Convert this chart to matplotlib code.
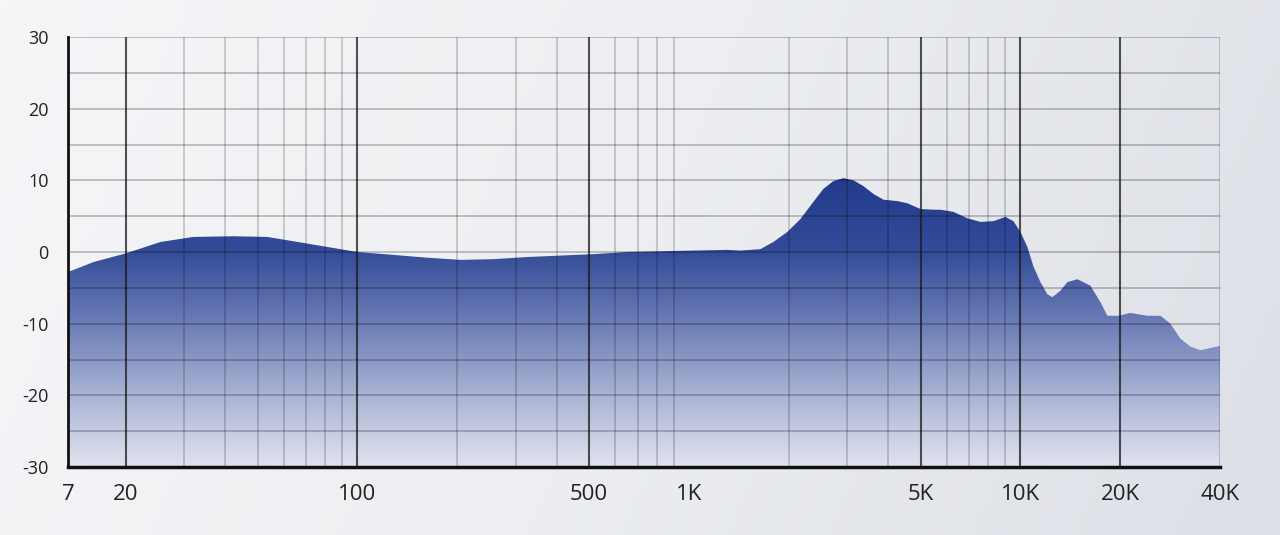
import numpy as np
import matplotlib
matplotlib.use("Agg")
import matplotlib.pyplot as plt
from matplotlib.colors import LinearSegmentedColormap
from matplotlib.patches import Polygon

# ==========================
# DATA
# ==========================

freq = [13.4, 16.0, 20, 25.5, 32, 42.3, 53.5, 64.1, 81.2, 100,
        128, 163, 205, 257, 326, 410, 515, 652, 820, 1032,
        1306, 1430, 1643, 1798, 1982, 2170, 2375, 2545, 2729, 2925,
        3135, 3360, 3602, 3861, 4256, 4562, 4993, 5465, 5738, 6281,
        6922, 7575, 8293, 9012, 9526, 10000, 10498, 10944, 11489, 12060,
        12490, 13204, 13866, 14858, 16262, 17430, 18300, 19754, 21470, 24160,
        26450, 28350, 30390, 32570, 34910, 37430, 40000]

level = [-2.8, -1.4, -0.2, 1.4, 2.1, 2.2, 2.1, 1.5, 0.7, 0.0,
         -0.4, -0.8, -1.1, -1.0, -0.7, -0.5, -0.3, 0.0, 0.1, 0.2,
         0.3, 0.2, 0.4, 1.4, 2.8, 4.6, 7.0, 8.8, 9.9, 10.3,
         10.0, 9.2, 8.1, 7.3, 7.1, 6.8, 6.0, 5.9, 5.9, 5.6,
         4.7, 4.2, 4.3, 4.9, 4.3, 2.8, 0.7, -2.0, -4.2, -5.9,
         -6.3, -5.4, -4.2, -3.8, -4.7, -7.0, -8.9, -8.9, -8.5, -8.9,
         -8.9, -10.0, -12.1, -13.2, -13.7, -13.4, -13.1]

tick_freqs = [13.4, 20, 100, 500, 1000, 5000, 10000, 20000, 40000]
tick_labels = ["7", "20", "100", "500", "1K", "5K", "10K", "20K", "40K"]

major_grid = [20, 100, 500, 5000, 10000, 20000]
minor_grid = [30, 40, 50, 60, 70, 80, 90,
              200, 300, 400, 600, 700, 800, 900,
              2000, 3000, 4000, 6000, 7000, 8000, 9000, 40000]

db_ticks = [-30, -20, -10, 0, 10, 20, 30]
db_grid = [-25, -20, -15, -10, -5, 0, 5, 10, 15, 20, 25, 30]

# ==========================
# FIGURE + BACKGROUND
# ==========================

fig = plt.figure(figsize=(12.8, 5.35), dpi=100)

bg = fig.add_axes([0, 0, 1, 1], zorder=-2)
bg_cmap = LinearSegmentedColormap.from_list("bg", ["#f5f6f8", "#eceef1", "#dcdfe6"])
gx = np.linspace(0, 1, 256)
gy = np.linspace(0, 1, 64)
GX, GY = np.meshgrid(gx, gy)
bg.imshow(0.85 * GX + 0.15 * GY, cmap=bg_cmap, aspect="auto",
          extent=[0, 1, 0, 1], origin="upper")
bg.axis("off")

ax = fig.add_axes([68 / 1280, 68 / 535, 1152 / 1280, 430 / 535])
ax.set_facecolor("none")
ax.set_xscale("log")
ax.set_xlim(13.4, 40000)
ax.set_ylim(-30, 30)

# ==========================
# GRADIENT FILL
# ==========================

fill_cmap = LinearSegmentedColormap.from_list(
    "fill",
    [(0.0, "#e0e3ef"), (1 / 6, "#a9b3d4"), (2 / 6, "#6c7db7"),
     (0.5, "#344c98"), (4 / 6, "#223b8b"), (1.0, "#1b3483")]
)
grad = np.linspace(1, 0, 256).reshape(-1, 1)
img = ax.imshow(grad, cmap=fill_cmap, aspect="auto",
                extent=[0, 1, 0, 1], transform=ax.transAxes,
                vmin=0, vmax=1, zorder=1)

verts = [(freq[0], -30)] + list(zip(freq, level)) + [(freq[-1], -30)]
poly = Polygon(verts, closed=True, transform=ax.transData,
               facecolor="none", edgecolor="none")
ax.add_patch(poly)
img.set_clip_path(poly)

# ==========================
# GRID
# ==========================

for f in minor_grid:
    ax.axvline(f, color="black", alpha=0.22, lw=1.1, zorder=2)
for f in major_grid:
    ax.axvline(f, color="#1a1a1a", alpha=0.75, lw=1.5, zorder=2)
for d in db_grid:
    ax.axhline(d, color="black", alpha=0.22, lw=1.4, zorder=2)

# ==========================
# AXES STYLE
# ==========================

for side in ["top", "right"]:
    ax.spines[side].set_visible(False)
ax.spines["left"].set_color("#111111")
ax.spines["left"].set_linewidth(2.0)
ax.spines["bottom"].set_color("#111111")
ax.spines["bottom"].set_linewidth(2.5)
ax.spines["left"].set_zorder(3)
ax.spines["bottom"].set_zorder(3)

ax.set_xticks(tick_freqs)
ax.set_xticklabels(tick_labels)
ax.xaxis.set_minor_locator(matplotlib.ticker.NullLocator())
ax.set_yticks(db_ticks)
ax.set_yticklabels([str(d) for d in db_ticks])

ax.tick_params(axis="x", length=0, pad=12, labelsize=16, colors="#222222")
ax.tick_params(axis="y", length=0, pad=14, labelsize=13, colors="#222222")
for lbl in ax.get_xticklabels() + ax.get_yticklabels():
    lbl.set_family("Open Sans")

fig.savefig("out.png", dpi=100, facecolor=fig.get_facecolor())
